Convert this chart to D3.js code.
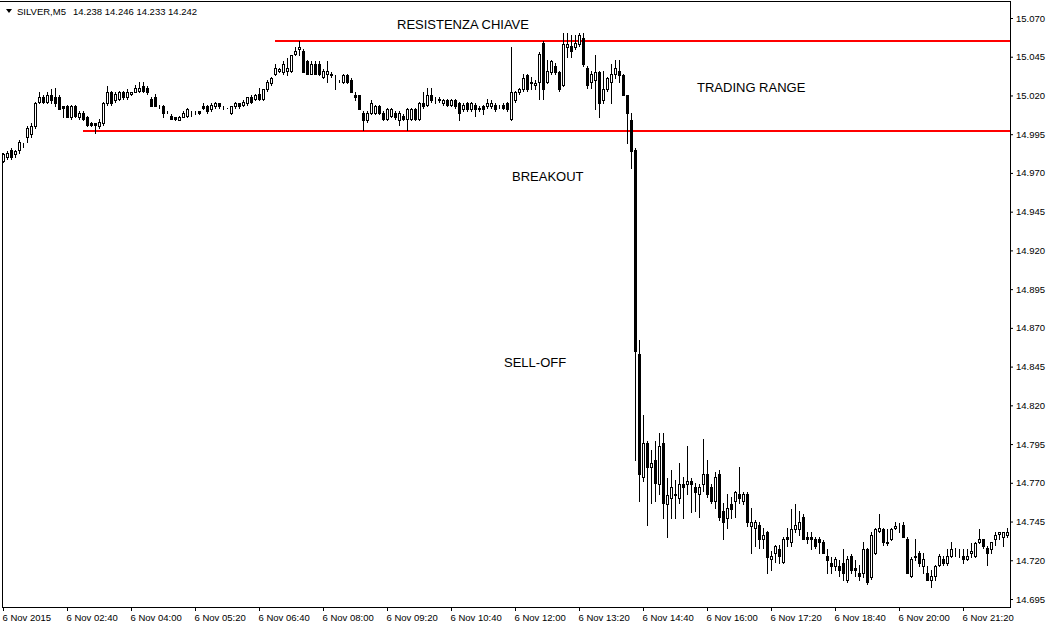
<!DOCTYPE html>
<html>
<head>
<meta charset="utf-8">
<script src="https://cdn.jsdelivr.net/npm/d3@7"></script>
<style>
body { margin: 0; background: #fff; }
svg { display: block; font-family: "Liberation Sans", Arial, sans-serif; }
</style>
</head>
<body>
<svg id="chart" width="1050" height="626"></svg>
<script>
// SILVER M5, one value per bar
var opens = [
  14.978, 14.980, 14.985, 14.982, 14.985, 14.988, 14.993, 14.995, 15.000, 15.016, 15.019, 15.016,
  15.020, 15.019, 15.019, 15.013, 15.013, 15.006, 15.013, 15.006, 15.009, 15.006, 15.002, 15.002,
  15.000, 15.002, 15.015, 15.022, 15.017, 15.018, 15.022, 15.019, 15.021, 15.022, 15.023, 15.026,
  15.025, 15.018, 15.019, 15.013, 15.013, 15.009, 15.007, 15.006, 15.004, 15.006, 15.007, 15.009,
  15.010, 15.010, 15.013, 15.013, 15.011, 15.013, 15.015, 15.012, 15.012, 15.009, 15.013, 15.015,
  15.014, 15.015, 15.019, 15.018, 15.021, 15.018, 15.024, 15.028, 15.034, 15.036, 15.035, 15.036,
  15.036, 15.047, 15.050, 15.049, 15.042, 15.034, 15.040, 15.040, 15.032, 15.034, 15.033, 15.033,
  15.029, 15.029, 15.033, 15.030, 15.020, 15.020, 15.009, 15.004, 15.009, 15.009, 15.013, 15.009,
  15.005, 15.007, 15.009, 15.004, 15.007, 15.005, 15.005, 15.011, 15.005, 15.015, 15.014, 15.020,
  15.017, 15.017, 15.015, 15.017, 15.014, 15.017, 15.015, 15.011, 15.015, 15.011, 15.014, 15.012,
  15.013, 15.013, 15.013, 15.014, 15.013, 15.014, 15.015, 15.005, 15.017, 15.022, 15.024, 15.033,
  15.028, 15.027, 15.029, 15.054, 15.029, 15.035, 15.039, 15.035, 15.027, 15.051, 15.052, 15.051,
  15.053, 15.057, 15.038, 15.029, 15.030, 15.035, 15.017, 15.024, 15.029, 15.034, 15.036, 15.033,
  15.020, 15.004, 14.985, 14.853, 14.774, 14.796, 14.780, 14.785, 14.769, 14.796, 14.756, 14.760,
  14.763, 14.760, 14.769, 14.769, 14.771, 14.767, 14.763, 14.769, 14.776, 14.767, 14.758, 14.776,
  14.752, 14.747, 14.756, 14.758, 14.763, 14.758, 14.763, 14.742, 14.741, 14.743, 14.734, 14.738,
  14.721, 14.725, 14.727, 14.719, 14.735, 14.732, 14.740, 14.740, 14.748, 14.735, 14.735, 14.734,
  14.734, 14.732, 14.723, 14.718, 14.716, 14.716, 14.718, 14.707, 14.723, 14.715, 14.712, 14.712,
  14.727, 14.709, 14.725, 14.739, 14.740, 14.731, 14.734, 14.741, 14.741, 14.743, 14.734, 14.710,
  14.723, 14.725, 14.716, 14.712, 14.707, 14.710, 14.717, 14.721, 14.718, 14.723, 14.725, 14.725,
  14.723, 14.721, 14.725, 14.723, 14.732, 14.734, 14.728, 14.727, 14.734, 14.737, 14.735, 14.736
];
var highs = [
  14.983, 14.984, 14.986, 14.985, 14.991, 14.989, 15.000, 15.002, 15.016, 15.022, 15.020, 15.022,
  15.024, 15.025, 15.020, 15.013, 15.014, 15.014, 15.014, 15.010, 15.010, 15.007, 15.003, 15.002,
  15.005, 15.016, 15.026, 15.023, 15.022, 15.023, 15.023, 15.024, 15.022, 15.027, 15.029, 15.029,
  15.026, 15.019, 15.021, 15.014, 15.014, 15.010, 15.008, 15.006, 15.007, 15.010, 15.012, 15.010,
  15.010, 15.010, 15.015, 15.014, 15.015, 15.016, 15.015, 15.013, 15.012, 15.013, 15.016, 15.015,
  15.017, 15.019, 15.020, 15.021, 15.025, 15.024, 15.030, 15.032, 15.040, 15.038, 15.042, 15.044,
  15.046, 15.051, 15.055, 15.050, 15.043, 15.042, 15.042, 15.042, 15.037, 15.042, 15.035, 15.033,
  15.030, 15.034, 15.034, 15.031, 15.022, 15.020, 15.010, 15.010, 15.017, 15.014, 15.014, 15.010,
  15.012, 15.012, 15.010, 15.010, 15.008, 15.012, 15.012, 15.012, 15.016, 15.022, 15.025, 15.025,
  15.019, 15.019, 15.018, 15.018, 15.018, 15.018, 15.016, 15.015, 15.016, 15.016, 15.015, 15.013,
  15.014, 15.018, 15.017, 15.015, 15.014, 15.015, 15.016, 15.051, 15.023, 15.025, 15.034, 15.034,
  15.032, 15.030, 15.048, 15.055, 15.043, 15.043, 15.041, 15.036, 15.060, 15.060, 15.059, 15.059,
  15.060, 15.060, 15.039, 15.036, 15.046, 15.036, 15.036, 15.032, 15.040, 15.043, 15.043, 15.034,
  15.020, 15.009, 14.986, 14.862, 14.814, 14.797, 14.791, 14.797, 14.802, 14.802, 14.773, 14.778,
  14.772, 14.783, 14.774, 14.794, 14.773, 14.770, 14.769, 14.798, 14.785, 14.769, 14.777, 14.778,
  14.757, 14.763, 14.761, 14.765, 14.780, 14.764, 14.764, 14.754, 14.746, 14.745, 14.741, 14.739,
  14.726, 14.730, 14.730, 14.735, 14.741, 14.753, 14.756, 14.752, 14.750, 14.738, 14.738, 14.735,
  14.735, 14.733, 14.727, 14.722, 14.722, 14.720, 14.727, 14.723, 14.724, 14.720, 14.717, 14.732,
  14.728, 14.738, 14.741, 14.750, 14.741, 14.740, 14.741, 14.745, 14.744, 14.745, 14.735, 14.722,
  14.734, 14.726, 14.725, 14.716, 14.714, 14.717, 14.724, 14.723, 14.727, 14.732, 14.728, 14.727,
  14.727, 14.727, 14.731, 14.732, 14.740, 14.734, 14.729, 14.732, 14.738, 14.738, 14.738, 14.741
];
var lows = [
  14.977, 14.979, 14.979, 14.980, 14.983, 14.987, 14.990, 14.993, 14.999, 15.015, 15.015, 15.015,
  15.015, 15.013, 15.011, 15.006, 15.006, 15.005, 15.006, 15.005, 15.004, 15.000, 15.000, 14.996,
  14.999, 15.001, 15.014, 15.014, 15.016, 15.017, 15.018, 15.018, 15.020, 15.022, 15.022, 15.022,
  15.021, 15.013, 15.013, 15.012, 15.006, 15.009, 15.005, 15.004, 15.004, 15.006, 15.006, 15.007,
  15.008, 15.008, 15.011, 15.009, 15.010, 15.012, 15.012, 15.011, 15.012, 15.008, 15.012, 15.012,
  15.013, 15.014, 15.015, 15.017, 15.017, 15.017, 15.023, 15.027, 15.033, 15.035, 15.034, 15.033,
  15.035, 15.046, 15.046, 15.035, 15.034, 15.034, 15.034, 15.033, 15.031, 15.029, 15.032, 15.024,
  15.029, 15.028, 15.028, 15.022, 15.017, 15.011, 14.998, 15.003, 15.008, 15.008, 15.008, 15.004,
  15.004, 15.006, 15.005, 15.001, 15.004, 14.998, 15.004, 15.004, 15.004, 15.012, 15.013, 15.016,
  15.015, 15.016, 15.014, 15.013, 15.013, 15.012, 15.004, 15.010, 15.010, 15.010, 15.007, 15.010,
  15.008, 15.012, 15.012, 15.010, 15.012, 15.011, 15.010, 15.004, 15.016, 15.021, 15.023, 15.023,
  15.024, 15.024, 15.018, 15.018, 15.028, 15.034, 15.034, 15.023, 15.026, 15.045, 15.045, 15.050,
  15.052, 15.039, 15.025, 15.025, 15.011, 15.006, 15.015, 15.023, 15.015, 15.031, 15.029, 15.020,
  14.989, 14.973, 14.785, 14.758, 14.771, 14.743, 14.757, 14.758, 14.763, 14.747, 14.735, 14.747,
  14.747, 14.757, 14.747, 14.763, 14.751, 14.752, 14.748, 14.765, 14.761, 14.757, 14.754, 14.746,
  14.734, 14.741, 14.747, 14.748, 14.757, 14.756, 14.742, 14.725, 14.729, 14.728, 14.728, 14.712,
  14.714, 14.719, 14.718, 14.718, 14.729, 14.729, 14.738, 14.736, 14.734, 14.731, 14.727, 14.728,
  14.725, 14.725, 14.712, 14.712, 14.714, 14.710, 14.707, 14.706, 14.712, 14.710, 14.707, 14.709,
  14.705, 14.708, 14.724, 14.738, 14.730, 14.730, 14.733, 14.740, 14.738, 14.735, 14.712, 14.709,
  14.720, 14.716, 14.712, 14.707, 14.703, 14.707, 14.716, 14.717, 14.717, 14.722, 14.723, 14.722,
  14.718, 14.720, 14.722, 14.722, 14.731, 14.728, 14.717, 14.725, 14.730, 14.734, 14.729, 14.735
];
var closes = [
  14.982, 14.983, 14.980, 14.984, 14.990, 14.988, 14.999, 15.000, 15.015, 15.019, 15.016, 15.020,
  15.017, 15.015, 15.011, 15.012, 15.006, 15.013, 15.007, 15.009, 15.005, 15.001, 15.001, 15.001,
  15.003, 15.015, 15.022, 15.015, 15.021, 15.022, 15.019, 15.022, 15.022, 15.025, 15.025, 15.023,
  15.022, 15.013, 15.013, 15.013, 15.009, 15.009, 15.005, 15.005, 15.006, 15.009, 15.011, 15.009,
  15.010, 15.009, 15.012, 15.010, 15.014, 15.015, 15.013, 15.012, 15.012, 15.013, 15.015, 15.013,
  15.016, 15.019, 15.016, 15.020, 15.018, 15.024, 15.029, 15.031, 15.038, 15.037, 15.040, 15.038,
  15.046, 15.049, 15.051, 15.035, 15.034, 15.040, 15.034, 15.034, 15.036, 15.036, 15.034, 15.033,
  15.029, 15.033, 15.029, 15.022, 15.019, 15.011, 15.004, 15.009, 15.015, 15.013, 15.009, 15.005,
  15.011, 15.011, 15.006, 15.009, 15.005, 15.011, 15.011, 15.005, 15.015, 15.013, 15.020, 15.017,
  15.017, 15.018, 15.017, 15.014, 15.017, 15.013, 15.009, 15.014, 15.011, 15.015, 15.011, 15.011,
  15.011, 15.015, 15.015, 15.011, 15.013, 15.012, 15.011, 15.022, 15.022, 15.024, 15.031, 15.024,
  15.029, 15.028, 15.047, 15.024, 15.036, 15.042, 15.035, 15.024, 15.053, 15.053, 15.049, 15.054,
  15.059, 15.040, 15.027, 15.034, 15.035, 15.015, 15.024, 15.031, 15.034, 15.038, 15.033, 15.020,
  15.009, 14.984, 14.855, 14.776, 14.796, 14.780, 14.783, 14.770, 14.794, 14.757, 14.762, 14.767,
  14.762, 14.769, 14.767, 14.771, 14.769, 14.764, 14.767, 14.776, 14.763, 14.758, 14.774, 14.748,
  14.745, 14.754, 14.753, 14.764, 14.760, 14.763, 14.745, 14.745, 14.745, 14.734, 14.736, 14.722,
  14.723, 14.729, 14.723, 14.734, 14.734, 14.740, 14.743, 14.745, 14.734, 14.734, 14.734, 14.729,
  14.732, 14.725, 14.720, 14.716, 14.721, 14.714, 14.712, 14.721, 14.714, 14.714, 14.710, 14.727,
  14.706, 14.736, 14.740, 14.741, 14.732, 14.732, 14.740, 14.742, 14.741, 14.735, 14.712, 14.721,
  14.722, 14.718, 14.721, 14.707, 14.710, 14.716, 14.723, 14.718, 14.723, 14.727, 14.725, 14.725,
  14.721, 14.723, 14.726, 14.731, 14.734, 14.729, 14.725, 14.732, 14.736, 14.738, 14.738, 14.738
];

var yTicks = [15.070, 15.045, 15.020, 14.995, 14.970, 14.945, 14.920, 14.895,
              14.870, 14.845, 14.820, 14.795, 14.770, 14.745, 14.720, 14.695];
var xTickBars = [0, 16, 32, 48, 64, 80, 96, 112, 128, 144, 160, 176, 192, 208, 224, 240];
var xTickLabels = ["6 Nov 2015", "6 Nov 02:40", "6 Nov 04:00", "6 Nov 05:20", "6 Nov 06:40",
                   "6 Nov 08:00", "6 Nov 09:20", "6 Nov 10:40", "6 Nov 12:00", "6 Nov 13:20",
                   "6 Nov 14:40", "6 Nov 16:00", "6 Nov 17:20", "6 Nov 18:40", "6 Nov 20:00",
                   "6 Nov 21:20"];

// horizontal levels drawn by hand on the chart
var levelPrices = [15.055, 14.997];
var levelFromBar = [68, 20];

var noteTexts = ["RESISTENZA CHIAVE", "TRADING RANGE", "BREAKOUT", "SELL-OFF"];
var noteBars = [98.5, 173.5, 127.25, 125.25];
var notePrices = [15.063, 15.022, 14.965, 14.845];

var svg = d3.select("#chart");

var x = d3.scaleLinear().domain([0, 251]).range([3, 1007]);
var y = d3.scaleLinear().domain([14.695, 15.070]).range([599, 18]);

function half(v) { return Math.round(v) + 0.5; }

var bars = d3.range(opens.length).map(function(i) {
    return { i: i, o: opens[i], h: highs[i], l: lows[i], c: closes[i] };
});

// frame
var frame = svg.append("g").attr("stroke", "#000").attr("stroke-width", 1);
frame.append("line").attr("x1", 0).attr("x2", 1010.5).attr("y1", 1.5).attr("y2", 1.5);
frame.append("line").attr("x1", 1010.5).attr("x2", 1010.5).attr("y1", 1).attr("y2", 608);
frame.append("line").attr("x1", 2).attr("x2", 1011).attr("y1", 607.5).attr("y2", 607.5);
frame.append("line").attr("x1", 2.5).attr("x2", 2.5).attr("y1", 153).attr("y2", 608);

// red levels
svg.append("g").selectAll("line")
    .data(levelPrices)
    .enter().append("line")
    .attr("x1", function(d, i) { return Math.round(x(levelFromBar[i])); })
    .attr("x2", 1010)
    .attr("y1", function(d) { return Math.round(y(d)); })
    .attr("y2", function(d) { return Math.round(y(d)); })
    .attr("stroke", "#ff0000")
    .attr("stroke-width", 2);

// candles
var candle = svg.append("g").selectAll("g")
    .data(bars)
    .enter().append("g");

candle.append("line")
    .attr("x1", function(d) { return half(x(d.i)); })
    .attr("x2", function(d) { return half(x(d.i)); })
    .attr("y1", function(d) { return Math.round(y(d.h)); })
    .attr("y2", function(d) { return Math.round(y(d.l)) + 1; })
    .attr("stroke", "#000");

candle.append("rect")
    .attr("x", function(d) { return Math.round(x(d.i)) - 0.5; })
    .attr("y", function(d) { return half(y(Math.max(d.o, d.c))); })
    .attr("width", 2)
    .attr("height", function(d) {
        return Math.round(y(Math.min(d.o, d.c))) - Math.round(y(Math.max(d.o, d.c)));
    })
    .attr("fill", function(d) { return d.c >= d.o ? "#fff" : "#000"; })
    .attr("stroke", "#000");

// right price axis
var yAxis = d3.axisRight(y)
    .tickValues(yTicks)
    .tickSize(3)
    .tickSizeOuter(0)
    .tickPadding(3)
    .tickFormat(d3.format(".3f"));

var gy = svg.append("g")
    .attr("transform", "translate(1010,0)")
    .call(yAxis);
gy.select(".domain").remove();
gy.selectAll("text").attr("font-size", 9.5).attr("fill", "#000").attr("font-family", "Liberation Sans, Arial, sans-serif");

// bottom time axis
var xAxis = d3.axisBottom(x)
    .tickValues(xTickBars)
    .tickSize(4)
    .tickSizeOuter(0)
    .tickPadding(3)
    .tickFormat(function(d, i) { return xTickLabels[i]; });

var gx = svg.append("g")
    .attr("transform", "translate(0,607)")
    .call(xAxis);
gx.select(".domain").remove();
gx.selectAll("text")
    .attr("text-anchor", "start")
    .attr("x", -1)
    .attr("font-size", 9.5)
    .attr("fill", "#000")
    .attr("font-family", "Liberation Sans, Arial, sans-serif");

// title
svg.append("path").attr("d", "M6,9 L12,9 L9,13 Z").attr("fill", "#000");
svg.append("text").attr("x", 17).attr("y", 15).attr("font-size", 9.5).text("SILVER,M5");
svg.append("text").attr("x", 73).attr("y", 15).attr("font-size", 9.5).text("14.238 14.246 14.233 14.242");

// notes
svg.append("g").selectAll("text")
    .data(noteTexts)
    .enter().append("text")
    .attr("x", function(d, i) { return x(noteBars[i]); })
    .attr("y", function(d, i) { return y(notePrices[i]); })
    .attr("font-size", 13)
    .attr("fill", "#000")
    .text(function(d) { return d; });
</script>
</body>
</html>
